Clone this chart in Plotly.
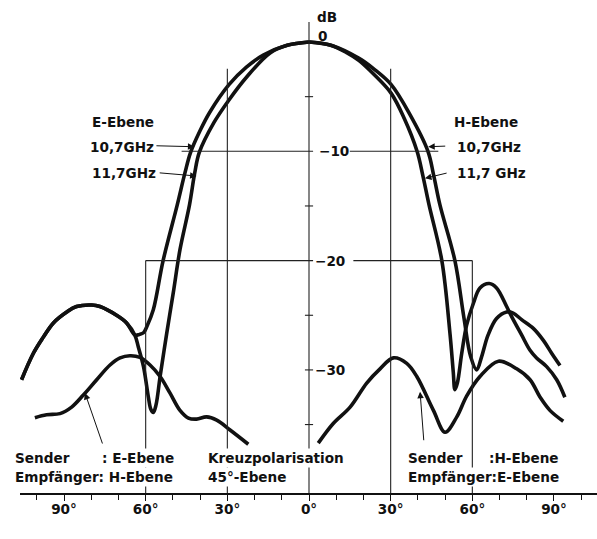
import plotly.graph_objects as go

# ---------------- data (angle in degrees, level in dB) ----------------
# E-Ebene (left half), 10,7 GHz
e107_deg = [-105.6, -101.3, -97.6, -93.9, -89, -85.4, -79.8, -76.8, -70.7, -67, -64,
            -62.3, -60.8, -59.6, -57.2, -53.6, -48.4, -45.6, -43.5, -40, -36.4, -29.4,
            -23, -16.8, -8, 0]
e107_db = [-30.9, -28.5, -27, -25.7, -24.7, -24.2, -24.06, -24.2, -25, -25.7, -26.8,
           -26.75, -26.6, -26.05, -24.5, -20, -14.9, -12.0, -10.1, -8.1, -6.4, -3.9,
           -2.3, -1.2, -0.3, 0]

# E-Ebene (left half), 11,7 GHz
e117_deg = [-105.6, -101.3, -97.6, -93.9, -89, -85.4, -79.8, -76.8, -70.7, -67, -64,
            -62.7, -60.8, -59, -58.1, -57.2, -56.2, -54.7, -52.3, -49.9, -47.4, -43.9,
            -42, -40.3, -35, -29.4, -22.9, -14.3, -8, 0]
e117_db = [-30.9, -28.5, -27, -25.7, -24.7, -24.2, -24.06, -24.2, -25, -25.7, -26.8,
           -27.9, -29.7, -32.5, -33.6, -33.9, -33.2, -30.6, -26.7, -23, -19, -14.9,
           -12.0, -10.1, -7.4, -5.3, -3.2, -1.0, -0.3, 0]

# H-Ebene (right half), 10,7 GHz
h107_deg = [0, 8, 18.4, 24, 30.2, 37, 43.7, 45.8, 48.1, 53.6, 56.9, 59.4, 61.6, 63.4,
            65.8, 68.9, 72.6, 75, 78.1, 82.4, 86.1, 89.2, 92.2]
h107_db = [0, -0.3, -1.5, -2.5, -3.9, -6.6, -10, -12.2, -14.9, -20, -25.2, -28.8, -30,
           -28.8, -26.8, -25.3, -24.7, -24.8, -25.4, -26.2, -27.3, -28.5, -29.6]

# H-Ebene (right half), 11,7 GHz
h117_deg = [0, 8, 14, 18.4, 24, 30.2, 35, 39.7, 41.8, 44.1, 48.8, 51.8, 53, 53.6, 54.5,
            56.1, 57.9, 60.4, 62.8, 66.2, 68.9, 72.6, 74.4, 78.1, 81.2, 83.6, 87.3, 91, 94]
h117_db = [0, -0.3, -1.0, -1.7, -3.0, -4.7, -7.0, -10, -12.2, -14.9, -20, -26.7, -30.2,
           -31.8, -31.2, -28.5, -25.9, -23.9, -22.5, -22.1, -22.5, -24.2, -25.1, -26.8,
           -28.2, -28.9, -29.7, -30.9, -32.5]

# Kreuzpolarisation, Sender E-Ebene / Empfaenger H-Ebene (left)
xe_deg = [-100.7, -96.4, -91.5, -87.2, -82.9, -78, -73.1, -69.4, -65.8, -62.1, -58.4,
          -54.7, -51.1, -47.4, -44.3, -41.3, -37.6, -33.9, -29, -22.3]
xe_db = [-34.37, -34.1, -34.0, -33.4, -32.3, -30.9, -29.55, -28.9, -28.7, -28.85, -29.55,
         -30.6, -32.1, -33.7, -34.4, -34.5, -34.3, -34.6, -35.5, -36.8]

# Kreuzpolarisation, Sender H-Ebene / Empfaenger E-Ebene (right)
xh_deg = [3.4, 8.9, 15.1, 21.2, 26.1, 31, 35.9, 39.6, 45.7, 50, 54.3, 57.9, 62.8, 69.6,
          76.3, 81.2, 84.9, 88.5, 93.4]
xh_db = [-36.7, -34.9, -33.4, -31.2, -29.9, -28.9, -29.4, -30.6, -33.7, -35.7, -34.3,
         -32.4, -30.6, -29.2, -29.9, -30.9, -32.5, -33.7, -34.7]

# axis ticks / labels
x_tickvals = [-90, -60, -30, 0, 30, 60, 90]
x_ticktext = ["90°", "60°", "30°", "0°", "30°", "60°", "90°"]
db_labels = [(-10, "\u221210"), (-20, "\u221220"), (-30, "\u221230")]
db_minor = [-5, -15, -25, -35, -30]

# ---------------- figure ----------------
FONT = "DejaVu Sans"
FS = 13.6
INK = "#111111"
fig = go.Figure()

for xs, ys in [(e107_deg, e107_db), (e117_deg, e117_db), (h107_deg, h107_db),
               (h117_deg, h117_db), (xe_deg, xe_db), (xh_deg, xh_db)]:
    fig.add_trace(go.Scatter(x=xs, y=ys, mode="lines",
                             line=dict(color=INK, width=3.6, shape="spline", smoothing=1.0),
                             hoverinfo="skip", showlegend=False))

YTOP = 1.83
YBOT = -41.26
thin = dict(color="#222222", width=1.1)
shapes = []
# vertical dB axis
shapes.append(dict(type="line", xref="x", yref="y", x0=0, x1=0, y0=YTOP, y1=YBOT, line=thin))
# small ticks on dB axis
for v in db_minor:
    shapes.append(dict(type="line", xref="x", yref="y", x0=-1.5, x1=1.5, y0=v, y1=v, line=thin))
# -10 dB line
shapes.append(dict(type="line", xref="x", yref="y", x0=-46.8, x1=1.5, y0=-10, y1=-10, line=thin))
shapes.append(dict(type="line", xref="x", yref="y", x0=15, x1=47.5, y0=-10, y1=-10, line=thin))
# -20 dB line (box)
shapes.append(dict(type="line", xref="x", yref="y", x0=-60, x1=1.5, y0=-20, y1=-20, line=thin))
shapes.append(dict(type="line", xref="x", yref="y", x0=16.3, x1=60, y0=-20, y1=-20, line=thin))
# +-30 deg verticals
for a in (-30, 30):
    shapes.append(dict(type="line", xref="x", yref="y", x0=a, x1=a, y0=-2.45, y1=YBOT, line=thin))
# +-60 deg verticals
for a in (-60, 60):
    shapes.append(dict(type="line", xref="x", yref="y", x0=a, x1=a, y0=-20, y1=YBOT, line=thin))

annotations = []

def txt(x, y, s, anchor="left", bg=None, xref="x"):
    d = dict(x=x, y=y, xref=xref, yref="y", text=s, showarrow=False,
             xanchor=anchor, yanchor="middle",
             font=dict(family=FONT, size=FS, color=INK, weight=700))
    if bg:
        d["bgcolor"] = bg
        d["borderpad"] = 1
    annotations.append(d)

def arrow(x, y, ax, ay):
    annotations.append(dict(x=x, y=y, ax=ax, ay=ay, xref="x", yref="y", axref="x", ayref="y",
                            text="", showarrow=True, arrowhead=2, arrowsize=1.3,
                            arrowwidth=1.0, arrowcolor=INK))

txt(2.2, 2.29, "dB")
txt(2.6, 0.55, "0")
txt(2.8, -10, db_labels[0][1])
txt(1.6, -20, db_labels[1][1])
txt(1.5, -30, db_labels[2][1])

txt(-80.5, -7.32, "E-Ebene")
txt(-81.2, -9.61, "10,7GHz")
txt(-80.5, -11.99, "11,7GHz")
arrow(-42.1, -9.58, -56.6, -9.49)
arrow(-41.3, -12.26, -55.4, -11.96)

txt(52.5, -7.32, "H-Ebene")
txt(53.6, -9.58, "10,7GHz")
txt(53.6, -11.99, "11,7 GHz")
arrow(43.8, -9.58, 50.6, -9.52)
arrow(42.6, -12.47, 51.1, -11.96)

# cross-pol pointers
arrow(-82.3, -32.11, -75.7, -36.87)
arrow(40.8, -31.99, 42.2, -36.57)

# bottom legends (left column starts left of the plot area -> paper coords)
LEFT_PAPER = (13 - 20) / 577.0
txt(LEFT_PAPER, -38.06, "Sender", bg="white", xref="paper")
txt(-76.8, -38.06, ": E-Ebene", bg="white")
txt(LEFT_PAPER, -39.8, "Empfänger: H-Ebene", bg="white", xref="paper")
txt(-38.0, -38.06, "Kreuzpolarisation", bg="white")
txt(-38.0, -39.8, "45°-Ebene", bg="white")
txt(35.8, -38.06, "Sender", bg="white")
txt(65.4, -38.06, ":H-Ebene", bg="white")
txt(35.8, -39.8, "Empfänger:E-Ebene", bg="white")

# axis title
txt(0.7, -44.56, "Richtungswinkel", anchor="center")

fig.update_layout(
    width=597, height=539,
    margin=dict(l=20, r=0, t=0, b=46, pad=0),
    paper_bgcolor="white", plot_bgcolor="white",
    shapes=shapes, annotations=annotations,
    xaxis=dict(range=[-106.17, 105.80], showgrid=False, zeroline=False,
               showline=True, linecolor=INK, linewidth=1.6,
               ticks="outside", ticklen=6, tickwidth=1.2, tickcolor=INK,
               tickmode="array", tickvals=x_tickvals, ticktext=x_ticktext,
               ticklabelstandoff=-3,
               tickfont=dict(family=FONT, size=FS, color=INK, weight=700),
               minor=dict(dtick=10, tick0=0, ticks="outside", ticklen=5,
                          tickwidth=1.1, tickcolor=INK, showgrid=False),
               fixedrange=True),
    yaxis=dict(range=[YBOT, 3.843], visible=False, fixedrange=True),
)

fig.write_html("out.html")
